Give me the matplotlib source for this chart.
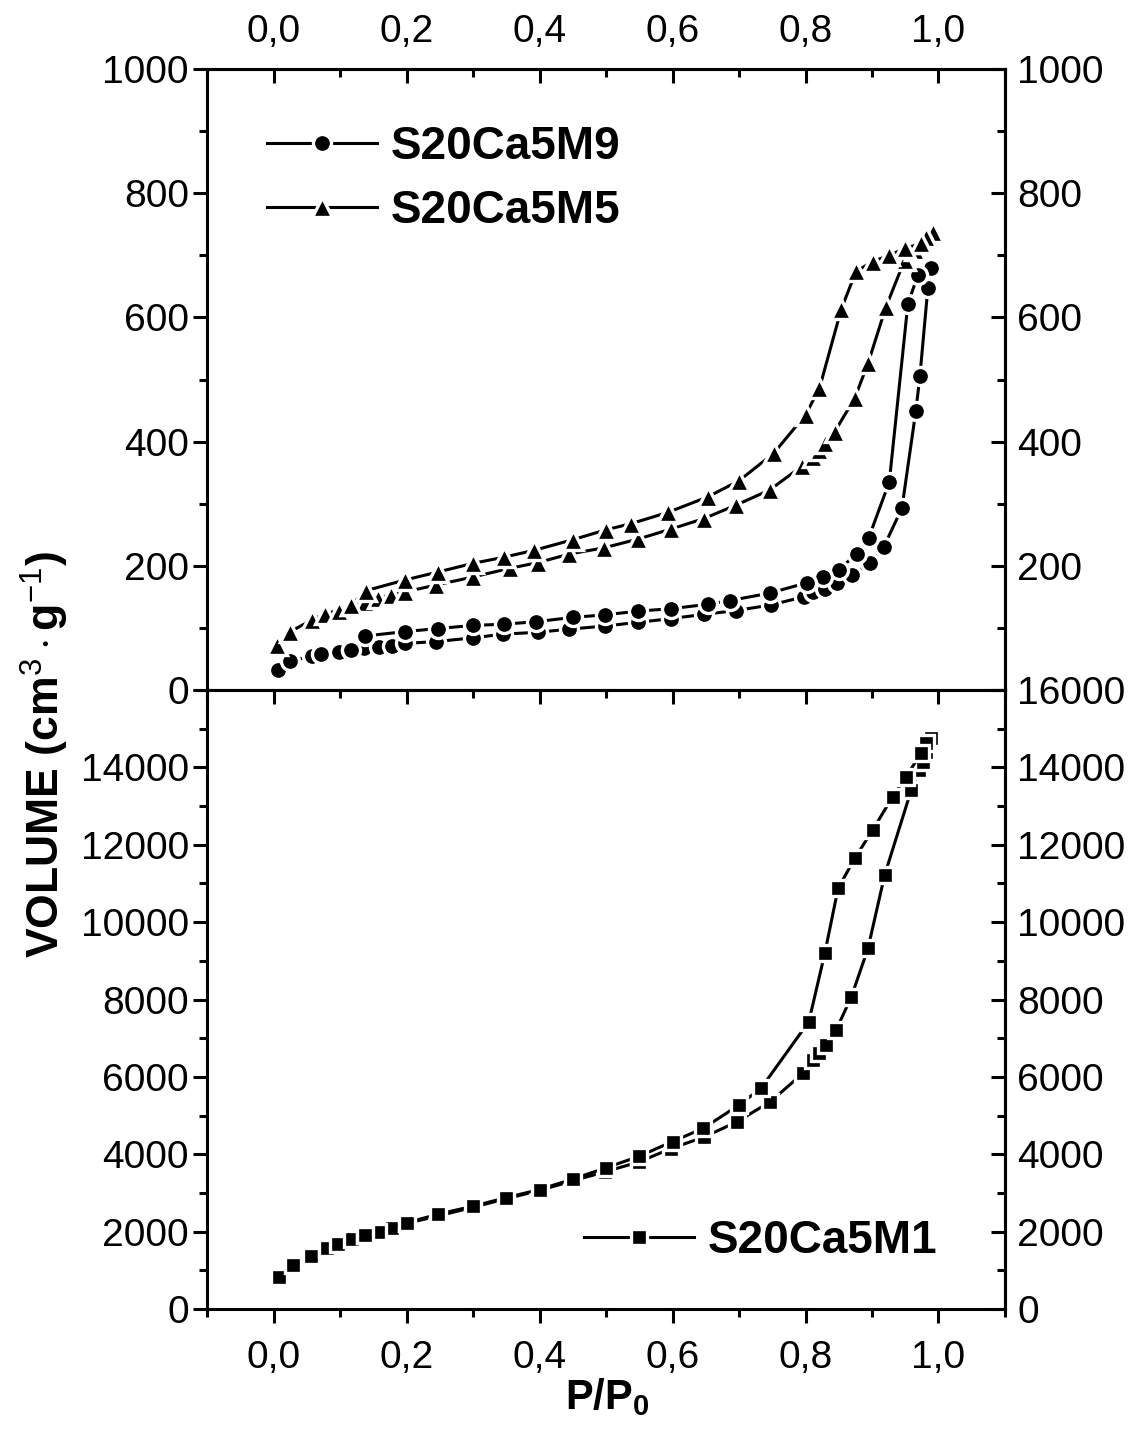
import matplotlib
matplotlib.use('Agg')
import matplotlib.pyplot as plt
from matplotlib.ticker import MultipleLocator, FuncFormatter

plt.rcParams['font.family'] = ['Liberation Sans', 'DejaVu Sans']
plt.rcParams['mathtext.fontset'] = 'custom'
plt.rcParams['mathtext.rm'] = 'Liberation Sans'
plt.rcParams['mathtext.it'] = 'Liberation Sans:italic'
plt.rcParams['mathtext.bf'] = 'Liberation Sans:bold'

# S20Ca5M9 (circles)
p_m9_ads = [0.006, 0.025, 0.058, 0.072, 0.098, 0.117, 0.136, 0.158, 0.178, 0.197, 0.244, 0.30,
            0.345, 0.397, 0.445, 0.498, 0.548, 0.598, 0.648, 0.696, 0.748, 0.797, 0.811, 0.829,
            0.847, 0.87, 0.897, 0.918, 0.945, 0.966, 0.972, 0.984, 0.989]
v_m9_ads = [33, 46, 55, 58, 61, 64, 67, 69, 71, 75, 78, 84, 90, 93, 98, 103, 109, 115, 122, 128,
            137, 150, 158, 162, 172, 185, 204, 231, 293, 450, 505, 647, 679]
p_m9_des = [0.989, 0.969, 0.954, 0.926, 0.895, 0.877, 0.85, 0.826, 0.803, 0.746, 0.686, 0.653,
            0.598, 0.548, 0.498, 0.45, 0.395, 0.347, 0.30, 0.247, 0.197, 0.138, 0.117]
v_m9_des = [679, 668, 622, 335, 245, 219, 194, 182, 173, 156, 144, 138, 131, 127, 121, 117, 110,
            106, 104, 99, 94, 87, 64]

# S20Ca5M5 (triangles)
p_m5_ads = [0.0055, 0.025, 0.058, 0.078, 0.098, 0.117, 0.137, 0.157, 0.177, 0.198, 0.244, 0.30,
            0.355, 0.397, 0.445, 0.497, 0.548, 0.597, 0.647, 0.696, 0.746, 0.794, 0.811, 0.821,
            0.829, 0.844, 0.874, 0.894, 0.921, 0.949, 0.965, 0.974, 0.981, 0.991]
v_m5_ads = [72, 94, 113, 123, 128, 137, 142, 148, 153, 158, 169, 182, 196, 205, 219, 229, 243,
            259, 276, 298, 322, 360, 376, 386, 397, 416, 470, 526, 617, 692, 708, 719, 730, 738]
p_m5_des = [0.991, 0.981, 0.974, 0.949, 0.926, 0.901, 0.876, 0.854, 0.821, 0.80, 0.752, 0.70,
            0.653, 0.593, 0.538, 0.50, 0.45, 0.392, 0.347, 0.30, 0.247, 0.197, 0.139, 0.117]
v_m5_des = [738, 730, 719, 711, 700, 690, 674, 614, 486, 443, 381, 337, 311, 286, 268, 258, 242,
            225, 214, 204, 190, 177, 160, 137]

# S20Ca5M1 (squares)
p_m1_ads = [0.0075, 0.030, 0.057, 0.081, 0.097, 0.118, 0.138, 0.157, 0.178, 0.20, 0.246, 0.30,
            0.349, 0.397, 0.449, 0.499, 0.549, 0.598, 0.648, 0.697, 0.747, 0.796, 0.811, 0.821,
            0.831, 0.846, 0.869, 0.894, 0.919, 0.959, 0.971, 0.976, 0.981, 0.989]
v_m1_ads = [819, 1137, 1378, 1568, 1672, 1801, 1913, 1982, 2085, 2215, 2400, 2630, 2850, 3050,
            3310, 3550, 3800, 4150, 4450, 4841, 5358, 6092, 6436, 6609, 6824, 7211, 8072, 9323,
            11217, 13414, 13931, 14146, 14400, 14750]
p_m1_des = [0.989, 0.981, 0.974, 0.951, 0.931, 0.901, 0.874, 0.849, 0.829, 0.805, 0.733, 0.70,
            0.646, 0.60, 0.55, 0.50, 0.45, 0.40, 0.35, 0.30, 0.247, 0.20, 0.157, 0.138]
v_m1_des = [14750, 14620, 14363, 13758, 13241, 12380, 11649, 10874, 9194, 7427, 5704, 5273,
            4670, 4330, 3950, 3650, 3360, 3090, 2880, 2660, 2450, 2230, 2000, 1913]

LW = 2.2
TICK_FS = 28


def comma(v, pos):
    return f'{v:.1f}'.replace('.', ',')


def series(ax, p, v, marker, ms, label=None):
    ax.plot(p, v, color='black', lw=LW, marker=marker, ms=ms, mfc='black', mec='white',
            mew=2.4, label=label)


def style(ax, ymax, ymajor, show_top, show_bottom, hide_left=None, hide_right=None):
    ax.set_xlim(-0.1, 1.1)
    ax.set_ylim(0, ymax)
    for s in ax.spines.values():
        s.set_linewidth(LW)
    ax.xaxis.set_major_locator(MultipleLocator(0.2))
    ax.xaxis.set_minor_locator(MultipleLocator(0.1))
    ax.yaxis.set_major_locator(MultipleLocator(ymajor))
    ax.yaxis.set_minor_locator(MultipleLocator(ymajor / 2))
    ax.xaxis.set_major_formatter(FuncFormatter(comma))
    ax.yaxis.set_major_formatter(FuncFormatter(
        lambda v, p: '' if v == hide_left else f'{v:.0f}'))
    ax.tick_params(which='both', direction='out', width=LW, labelsize=TICK_FS,
                   top=False, right=False, labelbottom=show_bottom)
    ax.tick_params(which='major', length=10)
    ax.tick_params(which='minor', length=6)
    ax.tick_params(axis='x', pad=12)
    ax.tick_params(axis='y', pad=3)

    # mirrored axes on top and right, ticks pointing inward
    secx = ax.secondary_xaxis('top')
    secx.xaxis.set_major_locator(MultipleLocator(0.2))
    secx.xaxis.set_minor_locator(MultipleLocator(0.1))
    secx.xaxis.set_major_formatter(FuncFormatter(comma))
    secx.tick_params(which='both', direction='in', width=LW, labelsize=TICK_FS,
                     labeltop=show_top, pad=14)
    secx.tick_params(which='major', length=10)
    secx.tick_params(which='minor', length=6)
    secx.spines['top'].set_linewidth(LW)

    secy = ax.secondary_yaxis('right')
    secy.yaxis.set_major_locator(MultipleLocator(ymajor))
    secy.yaxis.set_minor_locator(MultipleLocator(ymajor / 2))
    secy.yaxis.set_major_formatter(FuncFormatter(
        lambda v, p: '' if v == hide_right else f'{v:.0f}'))
    secy.tick_params(which='both', direction='in', width=LW, labelsize=TICK_FS, pad=9)
    secy.tick_params(which='major', length=10)
    secy.tick_params(which='minor', length=6)
    secy.spines['right'].set_linewidth(LW)


fig = plt.figure(figsize=(11.32, 14.46), dpi=100)
ax1 = fig.add_axes([0.1829, 0.5228, 0.7049, 0.4295])
ax2 = fig.add_axes([0.1829, 0.0947, 0.7049, 0.4281])

# top panel
series(ax1, p_m9_ads, v_m9_ads, 'o', 13, 'S20Ca5M9')
series(ax1, p_m9_des, v_m9_des, 'o', 13)
series(ax1, p_m5_ads, v_m5_ads, '^', 14, 'S20Ca5M5')
series(ax1, p_m5_des, v_m5_des, '^', 14)
style(ax1, 1000, 200, show_top=True, show_bottom=False, hide_right=0)
ax1.legend(loc='upper left', bbox_to_anchor=(0.075, 0.91), frameon=False,
           prop={'weight': 'bold', 'size': 33}, handlelength=2.4, handletextpad=0.3,
           labelspacing=0.45, borderpad=0, borderaxespad=0)

# bottom panel
series(ax2, p_m1_ads, v_m1_ads, 's', 12, 'S20Ca5M1')
series(ax2, p_m1_des, v_m1_des, 's', 12)
style(ax2, 16000, 2000, show_top=False, show_bottom=True, hide_left=16000)
ax2.legend(loc='lower right', bbox_to_anchor=(0.915, 0.075), frameon=False,
           prop={'weight': 'bold', 'size': 33}, handlelength=2.4, handletextpad=0.3,
           borderpad=0, borderaxespad=0)

fig.text(0.04, 0.478, r'VOLUME (cm$^{3}\cdot$g$^{-1}$)', rotation=90, ha='center',
         va='center', fontsize=32, fontweight='bold')
fig.text(0.536, 0.034, r'P/P$_\mathbf{0}$', ha='center', va='center', fontsize=30,
         fontweight='bold')

fig.savefig('out.png', dpi=100)
